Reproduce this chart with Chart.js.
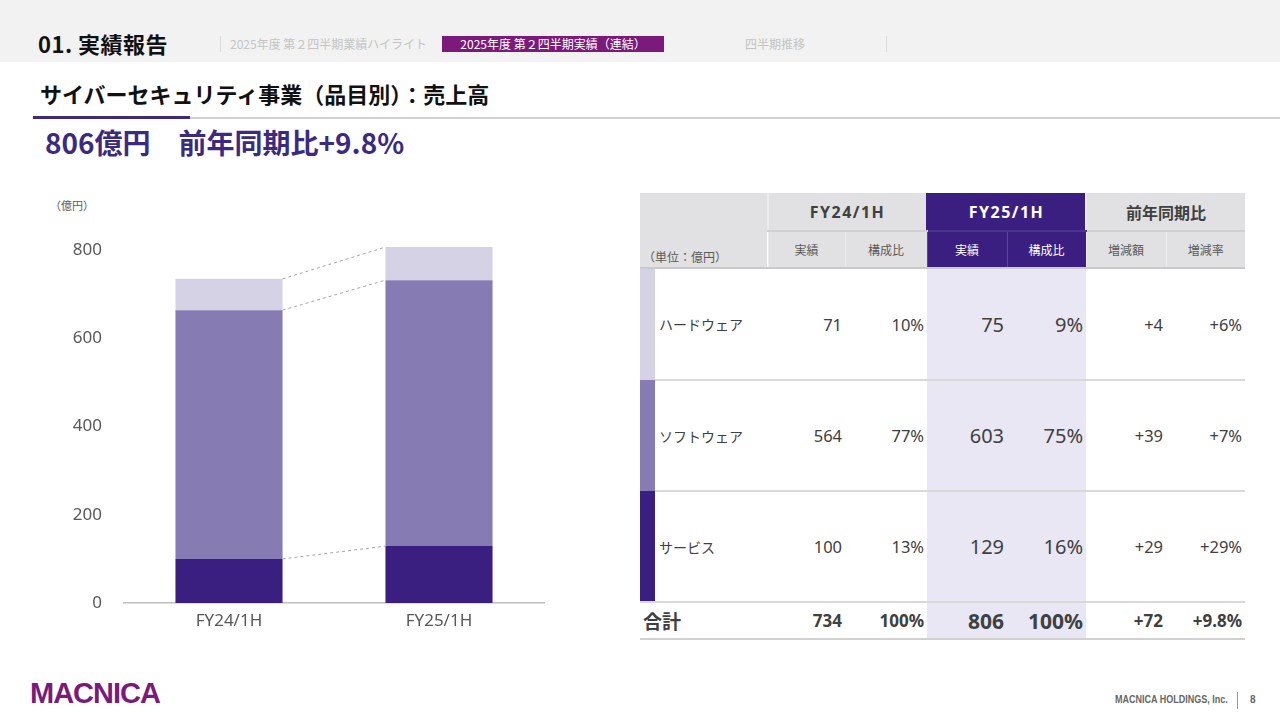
<!DOCTYPE html>
<html><head><meta charset="utf-8">
<script src="https://cdn.jsdelivr.net/npm/chart.js@4.4.1/dist/chart.umd.min.js"></script>
<style>
html,body{margin:0;padding:0}
body{width:1280px;height:720px;position:relative;background:#fff;font-family:"Noto Sans CJK JP","Noto Sans",sans-serif;overflow:hidden;color:#404040}
.abs{position:absolute;white-space:nowrap}
#topbar{left:0;top:0;width:1280px;height:62px;background:#f2f2f2}
#sec{left:38px;top:28px;font-size:22px;font-weight:700;color:#111;line-height:30px;letter-spacing:0.5px}
.nav{top:36px;height:16px;line-height:16px;font-size:12px;color:#c4c4c4}
.sep{width:1px;background:#dadada}
#active{left:442px;top:36px;width:222px;height:16px;line-height:16px;background:#7b1a7b;color:#fff;font-size:12px;text-align:center}
#title{left:40px;top:77px;font-size:22px;font-weight:700;color:#111;line-height:32px}
#lineGrey{left:190px;top:117px;width:1090px;height:2px;background:#d0d0d6}
#linePur{left:33px;top:116px;width:157px;height:3px;background:#3d2a7a}
#headline{left:45px;top:122px;font-size:28px;font-weight:700;color:#3b2a82;line-height:40px}
#unit{left:50px;top:197px;font-size:11px;color:#595959}
#chartBox{left:0;top:218px;width:560px;height:422px}
#tbl{position:absolute;left:640px;top:193px;width:605px;table-layout:fixed;border-collapse:collapse}
#tbl td{padding:0;overflow:hidden;white-space:nowrap}
#tbl tr.h1 td{background:#e1e1e3;font-size:16px;font-weight:700;color:#404040;text-align:center;border-bottom:2px solid #cfcfd4;border-left:2px solid #ebebed}
#tbl tr.h1 td.lat{letter-spacing:1.5px;font-family:"Noto Sans",sans-serif}
#tbl tr.h2 td{background:#e1e1e3;font-size:12px;color:#595959;text-align:center;border-bottom:2px solid #c9c9cc;border-left:1px solid #ececee}
#tbl tr.h1 td.dk{background:#3a1f80;color:#fff;border-bottom:2px solid #4b3590;border-left-color:#3a1f80}
#tbl tr.h2 td.dk{background:#3a1f80;color:#fff;border-left-color:#5a4596}
#tbl td.unitcell{background:#e1e1e3 !important;border-left:none !important;vertical-align:bottom;text-align:left !important;font-size:12px !important;font-weight:400 !important;color:#595959 !important;padding:0 0 2px 3px;border-bottom:2px solid #c9c9cc !important}
#tbl tr.d td{border-bottom:2px solid #d9d9d9;font-family:"Noto Sans","Noto Sans CJK JP",sans-serif;font-size:16.5px;color:#404040;text-align:right;padding-right:3px}
#tbl tr.d td.lab{font-family:"Noto Sans CJK JP",sans-serif;font-size:14px;text-align:left;padding-left:4px;padding-right:0}
#tbl tr.d td.cb{border-bottom:none;padding:0}
#tbl tr.d td.cb.last{border-bottom:2px solid #d9d9d9}
#tbl tr.d td.f25{background:#e9e7f3;font-size:20px}
#tbl tr.t td{border-bottom:2px solid #d0d0d0;font-family:"Noto Sans","Noto Sans CJK JP",sans-serif;font-weight:700;font-size:17px;color:#404040;text-align:right;padding-right:3px}
#tbl tr.t td.lab{font-family:"Noto Sans CJK JP",sans-serif;font-size:19px;text-align:left;padding-left:3px}
#tbl tr.t td.f25{background:#e9e7f3;font-size:21px}
#logo{left:30px;top:676px;font-family:"Liberation Sans",sans-serif;font-weight:700;font-size:29px;color:#7b1a7b;letter-spacing:-1px;line-height:34px}
#corp{left:1115px;top:694px;font-size:10px;color:#666;font-family:"Liberation Sans",sans-serif;font-weight:700;transform:scaleX(0.9);transform-origin:left top}
#pg{left:1250px;top:694px;font-size:10px;color:#666;font-family:"Liberation Sans",sans-serif;font-weight:700}
</style></head>
<body>
<div id="topbar" class="abs"></div>
<div id="sec" class="abs">01. 実績報告</div>
<div class="abs sep" style="left:220px;top:36px;height:16px"></div>
<div class="abs nav" style="left:230px">2025年度 第２四半期業績ハイライト</div>
<div id="active" class="abs">2025年度 第２四半期実績（連結）</div>
<div class="abs nav" style="left:745px">四半期推移</div>
<div class="abs sep" style="left:886px;top:36px;height:16px"></div>
<div id="title" class="abs">サイバーセキュリティ事業（品目別）：売上高</div>
<div id="lineGrey" class="abs"></div>
<div id="linePur" class="abs"></div>
<div id="headline" class="abs">806億円　前年同期比+9.8%</div>
<div id="unit" class="abs">（億円）</div>
<div id="chartBox" class="abs"><canvas id="c"></canvas></div>
<table id="tbl"></table>
<div id="logo" class="abs">MACNICA</div>
<div id="corp" class="abs">MACNICA HOLDINGS, Inc.</div>
<div class="abs sep" style="left:1237px;top:692px;height:17px;background:#999"></div>
<div id="pg" class="abs">8</div>
<script>
// ---- data ----
const categories = ['FY24/1H', 'FY25/1H'];
const segments = ['ハードウェア', 'ソフトウェア', 'サービス'];
const hardware = [71, 75];
const software = [564, 603];
const service = [100, 129];
const shareFY24 = ['10%', '77%', '13%'];
const shareFY25 = ['9%', '75%', '16%'];
const diffAmount = ['+4', '+39', '+29'];
const diffRate = ['+6%', '+7%', '+29%'];
const totalRow = ['734', '100%', '806', '100%', '+72', '+9.8%'];
const yTicks = [0, 200, 400, 600, 800];
const headerGroups = ['FY24/1H', 'FY25/1H', '前年同期比'];
const subHeaders = ['実績', '構成比', '実績', '構成比', '増減額', '増減率'];

const segColors = ['#d5d2e6', '#877bb3', '#3a1f80'];
const segValues = [hardware, software, service];

// ---- table ----
(function(){
  const t = document.getElementById('tbl');
  const widths = [15,113,77,82,80,79,80,79];
  let h = '<colgroup>' + widths.map(w=>'<col style="width:'+w+'px">').join('') + '</colgroup>';
  h += '<tr class="h1" style="height:38px"><td colspan="2" rowspan="2" class="unitcell">（単位：億円）</td>';
  headerGroups.forEach((g,i)=>{
    const cls = [];
    if (i===1) cls.push('dk');
    if (i<2) cls.push('lat');
    h += '<td colspan="2"'+(cls.length?' class="'+cls.join(' ')+'"':'')+'>'+g+'</td>';
  });
  h += '</tr><tr class="h2" style="height:37px">';
  subHeaders.forEach((s,i)=>{ h += '<td'+((i===2||i===3)?' class="dk"':'')+'>'+s+'</td>'; });
  h += '</tr>';
  const rowH = [112,111,111];
  segments.forEach((s,i)=>{
    const v = segValues[i];
    h += '<tr class="d" style="height:'+rowH[i]+'px">';
    h += '<td class="cb'+(i===2?' last':'')+'" style="background:'+segColors[i]+'"></td>';
    h += '<td class="lab">'+s+'</td>';
    h += '<td>'+v[0]+'</td><td>'+shareFY24[i]+'</td>';
    h += '<td class="f25">'+v[1]+'</td><td class="f25">'+shareFY25[i]+'</td>';
    h += '<td>'+diffAmount[i]+'</td><td>'+diffRate[i]+'</td></tr>';
  });
  h += '<tr class="t" style="height:37px"><td colspan="2" class="lab">合計</td>';
  totalRow.forEach((v,i)=>{ h += '<td'+((i===2||i===3)?' class="f25"':'')+'>'+v+'</td>'; });
  h += '</tr>';
  t.innerHTML = h;
})();

// ---- chart ----
const connectors = {
  id: 'connectors',
  afterDatasetsDraw(chart){
    const ctx = chart.ctx, y = chart.scales.y;
    const m = chart.getDatasetMeta(0);
    const b0 = m.data[0], b1 = m.data[1];
    const x0 = b0.x + b0.width/2, x1 = b1.x - b1.width/2;
    const stacks = [service, software, hardware];
    let c0 = 0, c1 = 0;
    ctx.save();
    ctx.setLineDash([3,3]);
    ctx.strokeStyle = '#a6a6a6';
    ctx.lineWidth = 1;
    stacks.forEach(s=>{
      c0 += s[0]; c1 += s[1];
      ctx.beginPath();
      ctx.moveTo(x0, y.getPixelForValue(c0));
      ctx.lineTo(x1, y.getPixelForValue(c1));
      ctx.stroke();
    });
    ctx.restore();
  }
};

new Chart(document.getElementById('c'), {
  type: 'bar',
  data: {
    labels: categories,
    datasets: [
      {label: segments[2], data: service, backgroundColor: segColors[2]},
      {label: segments[1], data: software, backgroundColor: segColors[1]},
      {label: segments[0], data: hardware, backgroundColor: segColors[0]}
    ].map(d=>Object.assign(d,{barPercentage:0.51, categoryPercentage:1.0, clip:false, borderWidth:0}))
  },
  options: {
    responsive: true,
    maintainAspectRatio: false,
    animation: false,
    layout: {padding: {top: 29, right: 16, left: 0, bottom: 0}},
    plugins: {legend: {display: false}, tooltip: {enabled: false}},
    scales: {
      x: {
        stacked: true,
        grid: {display: false, drawTicks: false},
        border: {display: true, color: '#bfbfbf', width: 1.5},
        ticks: {color: '#595959', font: {family: 'Noto Sans', size: 17}, padding: 8},
        afterFit(s){ s.height = 37; }
      },
      y: {
        stacked: true,
        min: 0, max: 800,
        grid: {display: false, drawTicks: false},
        border: {display: false},
        afterBuildTicks(s){ s.ticks = yTicks.map(v=>({value: v})); },
        ticks: {color: '#595959', font: {family: 'Noto Sans', size: 17}, padding: 22},
        afterFit(s){ s.width = 124; }
      }
    }
  },
  plugins: [connectors]
});
</script>
</body></html>
